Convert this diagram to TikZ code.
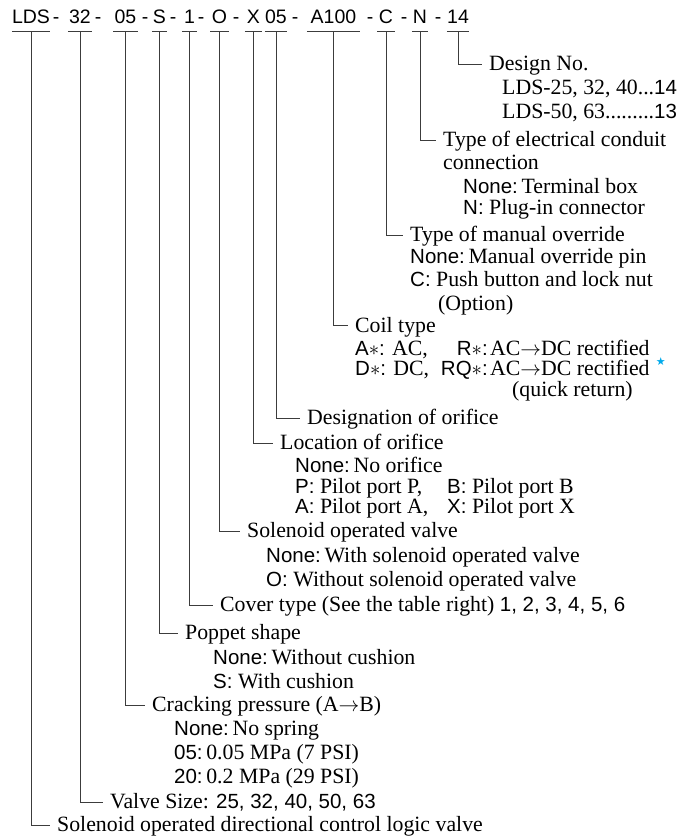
\documentclass[tikz,border=0pt]{standalone}
\usepackage{fontspec}
\setmainfont{Liberation Serif}
\newfontfamily\hvfam{Liberation Sans}
\newfontfamily\djvfam{DejaVu Sans}
\definecolor{starcyan}{RGB}{0,170,235}
\definecolor{lncol}{RGB}{60,60,60}
\newcommand\cd[1]{{\hvfam\fontsize{20.5}{20}\selectfont #1}}
\tikzset{
  ln/.style={draw=lncol, line width=0.8pt},
  code/.style={font=\hvfam\fontsize{19.5}{20}\selectfont, anchor=base, inner xsep=0pt, inner ysep=7.5pt, text height=14pt, text depth=0pt},
  hy/.style={font=\hvfam\fontsize{19.5}{20}\selectfont, anchor=base, inner sep=0pt},
  lab/.style={font=\fontsize{21.8}{23}\selectfont, anchor=west, inner xsep=0pt, inner ysep=0pt, text height=13pt, text depth=0pt},
  head/.style={lab, inner xsep=7pt},
  labe/.style={lab, anchor=east}
}
\begin{document}
\begin{tikzpicture}[x=1pt,y=-1pt]
\useasboundingbox (0,0) rectangle (680,836);
% header codes
\node[code, minimum width=38pt] (cLDS) at (31,23.5) {LDS};
\node[code, minimum width=24pt] (c32) at (80,23.5) {32};
\node[code, minimum width=24pt] (c05a) at (125.5,23.5) {05};
\node[code, minimum width=15pt] (cS) at (159.5,23.5) {S};
\node[code, minimum width=15pt] (c1) at (189.5,23.5) {1};
\node[code, minimum width=18pt] (cO) at (219.5,23.5) {O};
\node[code, minimum width=17pt] (cX) at (253.5,23.5) {X};
\node[code, minimum width=22pt] (c05b) at (276,23.5) {05};
\node[code, minimum width=53pt] (cA) at (333.5,23.5) {A100};
\node[code, minimum width=17pt] (cC) at (386,23.5) {C};
\node[code, minimum width=16pt] (cN) at (420,23.5) {N};
\node[code, minimum width=22pt] (c14) at (458,23.5) {14};
% hyphens
\node[hy] (h1) at (56,23.5) {-};
\node[hy] (h2) at (98,23.5) {-};
\node[hy] (h3) at (145,23.5) {-};
\node[hy] (h4) at (173,23.5) {-};
\node[hy] (h5) at (201,23.5) {-};
\node[hy] (h6) at (236,23.5) {-};
\node[hy] (h7) at (295,23.5) {-};
\node[hy] (h8) at (370,23.5) {-};
\node[hy] (h9) at (404,23.5) {-};
\node[hy] (h10) at (438,23.5) {-};
% underlines
\foreach \n in {cLDS,c32,c05a,cS,c1,cO,cX,c05b,cA,cC,cN,c14}
  \draw[ln] (\n.south west) -- (\n.south east);
% labels
\node[head] (t14) at (482,64) {Design No.};
\node[lab] (t14a) at (502,88) {LDS-25, 32, 40...\cd{14}};
\node[lab] (t14b) at (502,112) {LDS-50, 63.........\cd{13}};
\node[head] (tN) at (436,140) {Type of electrical conduit};
\node[lab] (tNa) at (443,163) {connection};
\node[lab] (tNb) at (463,187) {\cd{None:}\,Terminal box};
\node[lab] (tNc) at (463,208) {\cd{N:} Plug-in connector};
\node[head] (tC) at (403,235) {Type of manual override};
\node[lab] (tCa) at (410,257) {\cd{None:}\,Manual override pin};
\node[lab] (tCb) at (410,280) {\cd{C:} Push button and lock nut};
\node[lab] (tCc) at (438,304) {(Option)};
\node[head] (tA) at (348,325.5) {Coil type};
\node[lab] (tAa) at (355,348.5) {\cd{A$\ast$:} AC,};
\node[labe] (tAb) at (488,348.5) {\cd{R$\ast$:}};
\node[lab] (tAc) at (490,348.5) {AC$\rightarrow$DC rectified};
\node[lab] (tAd) at (355,369) {\cd{D$\ast$:} DC,};
\node[labe] (tAe) at (488,369) {\cd{RQ$\ast$:}};
\node[lab] (tAf) at (490,369) {AC$\rightarrow$DC rectified};
\node[font=\djvfam\fontsize{11}{11}\selectfont, text=starcyan, inner sep=0pt, anchor=west] (star) at ([xshift=6pt,yshift=7pt]tAf.east) {★};
\node[lab] (tAg) at (512,390) {(quick return)};
\node[head] (tD) at (300,418) {Designation of orifice};
\node[head] (tX) at (273,443) {Location of orifice};
\node[lab] (tXa) at (295,466) {\cd{None:}\,No orifice};
\node[lab] (tXb) at (295,486.5) {\cd{P:} Pilot port P,};
\node[lab] (tXc) at (447,486.5) {\cd{B:} Pilot port B};
\node[lab] (tXd) at (295,507) {\cd{A:} Pilot port A,};
\node[lab] (tXe) at (447,507) {\cd{X:} Pilot port X};
\node[head] (tO) at (240,531) {Solenoid operated valve};
\node[lab] (tOa) at (266,556) {\cd{None:}\,With solenoid operated valve};
\node[lab] (tOb) at (266,580) {\cd{O:} Without solenoid operated valve};
\node[head] (t1) at (213,605) {Cover type (See the table right) \cd{1, 2, 3, 4, 5, 6}};
\node[head] (tS) at (178,633) {Poppet shape};
\node[lab] (tSa) at (213,658) {\cd{None:}\,Without cushion};
\node[lab] (tSb) at (213,682) {\cd{S:} With cushion};
\node[head] (t05) at (145,705) {Cracking pressure (A$\rightarrow$B)};
\node[lab] (t05a) at (174,729) {\cd{None:}\,No spring};
\node[lab] (t05b) at (174,753) {\cd{05:}\,0.05 MPa (7 PSI)};
\node[lab] (t05c) at (174,777) {\cd{20:}\,0.2 MPa (29 PSI)};
\node[head] (t32) at (103,802) {Valve Size: \cd{25, 32, 40, 50, 63}};
\node[head] (tL) at (50,825) {Solenoid operated directional control logic valve};
% connectors
\draw[ln] (c14.south) |- (t14.west);
\draw[ln] (cN.south) |- (tN.west);
\draw[ln] (cC.south) |- (tC.west);
\draw[ln] (cA.south) |- (tA.west);
\draw[ln] (c05b.south) |- (tD.west);
\draw[ln] (cX.south) |- (tX.west);
\draw[ln] (cO.south) |- (tO.west);
\draw[ln] (c1.south) |- (t1.west);
\draw[ln] (cS.south) |- (tS.west);
\draw[ln] (c05a.south) |- (t05.west);
\draw[ln] (c32.south) |- (t32.west);
\draw[ln] (cLDS.south) |- (tL.west);
\end{tikzpicture}
\end{document}
